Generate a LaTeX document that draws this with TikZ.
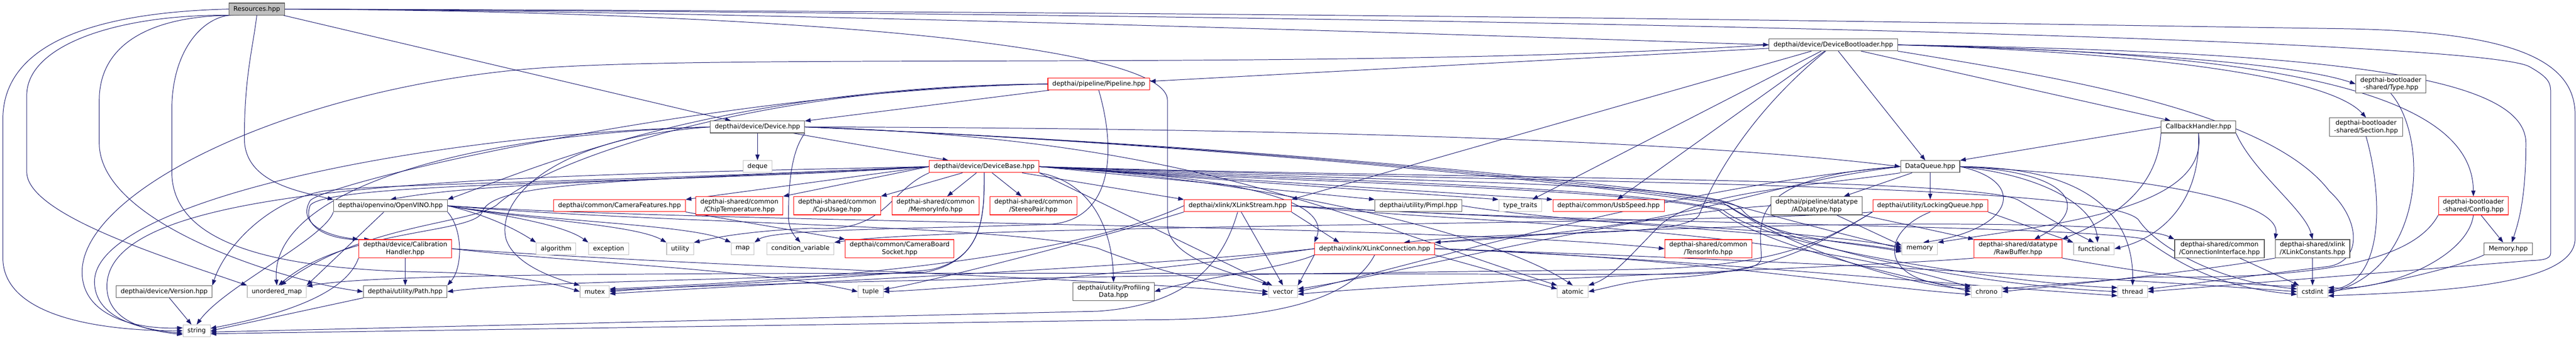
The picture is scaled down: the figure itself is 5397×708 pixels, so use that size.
\documentclass[tikz,border=0pt]{standalone}
\usepackage{fontspec}
\setmainfont{DejaVu Sans}
\usetikzlibrary{arrows.meta}
\definecolor{midblue}{HTML}{191970}
\definecolor{grey75}{HTML}{BFBFBF}
\definecolor{grey40}{HTML}{555555}
\pgfdeclarelayer{bg}
\pgfdeclarelayer{edges}
\pgfsetlayers{bg,edges,main}
\tikzset{
	hdr/.style={draw, rectangle, fill=white, font=\fontsize{10}{12}\selectfont, align=center,
		inner xsep=7pt, inner ysep=3.5pt, minimum height=18.75pt, line width=0.9pt},
	rootfile/.style={hdr, fill=grey75, draw=grey40},
	srcfile/.style={hdr, draw=grey40},
	cutfile/.style={hdr, draw=red},
	sysfile/.style={hdr, draw=grey75},
	dep/.style={-{Triangle[length=9pt,width=6.5pt]}, draw=midblue, line width=0.8pt}
}
\begin{document}
\begin{tikzpicture}[x=0.75pt, y=-0.75pt]
		\begin{pgfonlayer}{bg}
			\fill[white] (0,0) rectangle (5397,708);
		\end{pgfonlayer}
		\useasboundingbox (0,0) rectangle (5397,708);

		\draw (538,19) node[rootfile] (resources) {Resources.hpp};
		\draw (3841,94) node[srcfile] (devBoot) {depthai/device/DeviceBootloader.hpp};
		\draw (2302,176) node[cutfile] (pipeline) {depthai/pipeline/Pipeline.hpp};
		\draw (5009,176) node[srcfile] (blType) {depthai-bootloader\\-shared/Type.hpp};
		\draw (1587,266) node[srcfile] (device) {depthai/device/Device.hpp};
		\draw (4606,266) node[srcfile] (callback) {CallbackHandler.hpp};
		\draw (4957,266) node[srcfile] (blSection) {depthai-bootloader\\-shared/Section.hpp};
		\draw (1587,349) node[sysfile] (deque) {deque};
		\draw (2062,349) node[cutfile] (devBase) {depthai/device/DeviceBase.hpp};
		\draw (4044,349) node[srcfile] (dataQueue) {DataQueue.hpp};

		\draw (818,431) node[srcfile] (openvino) {depthai/openvino/OpenVINO.hpp};
		\draw (1298,431) node[cutfile] (camFeat) {depthai/common/CameraFeatures.hpp};
		\draw (1549,431) node[cutfile] (chipTemp) {depthai-shared/common\\/ChipTemperature.hpp};
		\draw (1754,431) node[cutfile] (cpuUsage) {depthai-shared/common\\/CpuUsage.hpp};
		\draw (1960,431) node[cutfile] (memInfo) {depthai-shared/common\\/MemoryInfo.hpp};
		\draw (2165,431) node[cutfile] (stereoPair) {depthai-shared/common\\/StereoPair.hpp};
		\draw (2593,431) node[cutfile] (xlStream) {depthai/xlink/XLinkStream.hpp};
		\draw (2972,431) node[srcfile] (pimpl) {depthai/utility/Pimpl.hpp};
		\draw (3185,431) node[sysfile] (typeTraits) {type\_traits};
		\draw (3370,431) node[cutfile] (usbSpeed) {depthai/common/UsbSpeed.hpp};
		\draw (3806,431) node[srcfile] (aDatatype) {depthai/pipeline/datatype\\/ADatatype.hpp};
		\draw (4044,431) node[cutfile] (lockQueue) {depthai/utility/LockingQueue.hpp};
		\draw (5182,431) node[cutfile] (blConfig) {depthai-bootloader\\-shared/Config.hpp};

		\draw (849,521) node[cutfile] (calib) {depthai/device/Calibration\\Handler.hpp};
		\draw (1165,521) node[sysfile] (algorithm) {algorithm};
		\draw (1275,521) node[sysfile] (exception) {exception};
		\draw (1425,521) node[sysfile] (utility) {utility};
		\draw (1556,521) node[sysfile] (map) {map};
		\draw (1677,521) node[sysfile] (condVar) {condition\_variable};
		\draw (1885,521) node[cutfile] (camSocket) {depthai/common/CameraBoard\\Socket.hpp};
		\draw (2880,521) node[cutfile] (xlConn) {depthai/xlink/XLinkConnection.hpp};
		\draw (3579,521) node[cutfile] (tensorInfo) {depthai-shared/common\\/TensorInfo.hpp};
		\draw (4022,521) node[sysfile] (memory) {memory};
		\draw (4228,521) node[cutfile] (rawBuffer) {depthai-shared/datatype\\/RawBuffer.hpp};
		\draw (4387,521) node[sysfile] (functional) {functional};
		\draw (4650,521) node[srcfile] (connIf) {depthai-shared/common\\/ConnectionInterface.hpp};
		\draw (4845,521) node[srcfile] (xlConst) {depthai-shared/xlink\\/XLinkConstants.hpp};
		\draw (5255,521) node[srcfile] (blMemory) {Memory.hpp};

		\draw (344,611) node[srcfile] (version) {depthai/device/Version.hpp};
		\draw (580,611) node[sysfile] (unorderedMap) {unordered\_map};
		\draw (849,611) node[srcfile] (utilPath) {depthai/utility/Path.hpp};
		\draw (1246,611) node[sysfile] (mutex) {mutex};
		\draw (1824,611) node[sysfile] (tuple) {tuple};
		\draw (2333,611) node[srcfile] (profiling) {depthai/utility/Profiling\\Data.hpp};
		\draw (2688,611) node[sysfile] (vector) {vector};
		\draw (3295,611) node[sysfile] (atomic) {atomic};
		\draw (4162,611) node[sysfile] (chrono) {chrono};
		\draw (4468,611) node[sysfile] (thread) {thread};
		\draw (4845,611) node[sysfile] (cstdint) {cstdint};
		\draw (412,693) node[sysfile] (string) {string};

		\begin{pgfonlayer}{edges}
		\draw [dep] (resources.west) .. controls (200,26) and (6,90) .. (6,250) -- (6,540) .. controls (6,660) and (200,693) .. (string.west);
		\draw [dep] (resources.195) .. controls (260,28) and (56,90) .. (56,200) -- (56,360) .. controls (56,450) and (350,540) .. (unorderedMap.north west);
		\draw [dep] (resources.200) .. controls (320,30) and (208,90) .. (208,210) -- (208,300) .. controls (208,470) and (600,590) .. (utilPath.west);
		\draw [dep] (resources.south west) .. controls (420,40) and (360,110) .. (360,230) -- (360,360) .. controls (360,520) and (600,565) .. (900,570) .. controls (1050,573) and (1150,590) .. (mutex.west);
		\draw [dep] (resources.south) .. controls (530,100) and (512,160) .. (512,290) .. controls (512,380) and (620,400) .. (openvino.north west);
		\draw [dep] (resources) -- (device);
		\draw [dep] (resources.east) .. controls (1500,22) and (3000,70) .. (devBoot.west);
		\draw [dep] (resources.east) .. controls (1600,24) and (2446,90) .. (2446,210) -- (2446,470) .. controls (2446,550) and (2620,580) .. (vector.north west);
		\draw [dep] (resources.east) .. controls (3000,26) and (4200,50) .. (4900,60) .. controls (5250,65) and (5395,120) .. (5395,240) -- (5395,500) .. controls (5395,600) and (5100,611) .. (cstdint.345);
		\draw [dep] (resources.east) .. controls (3000,30) and (5200,80) .. (5300,140) .. controls (5344,165) and (5344,175) .. (5344,200) -- (5344,530) .. controls (5344,545) and (5320,545) .. (5300,546) -- (thread.east);

		\draw [dep] (devBoot) -- (pipeline);
		\draw [dep] (devBoot.west) .. controls (2800,150) and (1500,110) .. (1100,145) .. controls (600,190) and (172,400) .. (172,570) .. controls (172,660) and (280,690) .. (string.168);
		\draw [dep] (devBoot) -- (xlStream.north east);
		\draw [dep] (devBoot) -- (typeTraits);
		\draw [dep] (devBoot) -- (usbSpeed);
		\draw [dep] (devBoot) .. controls (3650,250) and (3580,400) .. (3560,450) .. controls (3530,500) and (3200,480) .. (xlConn.12);
		\draw [dep] (devBoot) -- (dataQueue);
		\draw [dep] (devBoot) -- (callback);
		\draw [dep] (devBoot.south east) .. controls (4300,160) and (4750,230) .. (4880,400) .. controls (4945,460) and (4950,545) .. (4880,558) .. controls (4700,580) and (4550,600) .. (thread.10);
		\draw [dep] (devBoot.east) .. controls (4400,105) and (4800,130) .. (blType.west);
		\draw [dep] (devBoot.east) .. controls (4500,110) and (4880,160) .. (blSection.north);
		\draw [dep] (devBoot.east) .. controls (4800,110) and (5180,200) .. (blConfig.north);
		\draw [dep] (devBoot.east) .. controls (4900,108) and (5292,160) .. (5292,300) .. controls (5292,420) and (5275,470) .. (blMemory.60);

		\draw [dep] (device) -- (deque);
		\draw [dep] (device) -- (devBase);
		\draw [dep] (device.east) .. controls (2600,268) and (3500,290) .. (dataQueue.west);
		\draw [dep] (device.west) .. controls (900,280) and (198,420) .. (198,590) .. controls (198,665) and (290,690) .. (string.190);
		\draw [dep] (device.west) .. controls (900,285) and (565,420) .. (unorderedMap.north);
		\draw [dep] (device.west) .. controls (1150,290) and (1040,420) .. (1060,500) .. controls (1075,550) and (1150,580) .. (mutex.north west);
		\draw [dep] (device.south east) .. controls (1655,320) and (1652,400) .. (1652,455) .. controls (1652,480) and (1665,495) .. (condVar.north);
		\draw [dep] (device.east) .. controls (2500,300) and (3300,370) .. (3600,420) .. controls (3700,450) and (3900,500) .. (memory.west);
		\draw [dep] (device.east) .. controls (2500,300) and (3300,375) .. (3610,425) .. controls (3750,520) and (4000,600) .. (chrono.170);
		\draw [dep] (device.east) .. controls (2500,300) and (3300,380) .. (3620,430) .. controls (3780,540) and (4200,600) .. (thread.west);
		\draw [dep] (device.east) .. controls (2500,290) and (2800,450) .. (atomic.north west);

		\draw [dep] (pipeline) -- (device);
		\draw [dep] (pipeline.west) .. controls (1500,180) and (1100,360) .. (openvino.north east);
		\draw [dep] (pipeline.west) .. controls (1500,190) and (690,380) .. (650,420) .. controls (620,470) and (690,495) .. (calib.north west);
		\draw [dep] (pipeline.west) .. controls (1600,180) and (1150,330) .. (1040,430) .. controls (980,470) and (760,470) .. (unorderedMap.60);
		\draw [dep] (pipeline.south) .. controls (2340,320) and (2330,460) .. (2200,470) .. controls (1900,480) and (1620,480) .. (map.north east);

		\draw [dep] (devBase.west) -- (camFeat.north east);
		\draw [dep] (devBase.west) -- (chipTemp.north east);
		\draw [dep] (devBase) -- (cpuUsage.north east);
		\draw [dep] (devBase) -- (memInfo);
		\draw [dep] (devBase) -- (stereoPair);
		\draw [dep] (devBase) -- (xlStream.north west);
		\draw [dep] (devBase.east) -- (pimpl.north west);
		\draw [dep] (devBase.east) -- (typeTraits.north west);
		\draw [dep] (devBase.east) -- (usbSpeed.north west);
		\draw [dep] (devBase.south east) .. controls (2280,380) and (2330,470) .. (profiling.north);
		\draw [dep] (devBase.west) .. controls (1600,375) and (1050,375) .. (openvino.north);
		\draw [dep] (devBase.west) .. controls (1400,385) and (690,380) .. (650,430) .. controls (630,480) and (700,505) .. (calib.165);
		\draw [dep] (devBase.west) .. controls (1300,380) and (800,385) .. (680,400) .. controls (560,420) and (470,520) .. (version.north east);
		\draw [dep] (devBase.south west) .. controls (1860,400) and (1857,490) .. (1700,478) .. controls (1550,485) and (1490,500) .. (utility.north east);
		\draw [dep] (devBase.south) .. controls (2062,450) and (2062,540) .. (1950,565) .. controls (1700,590) and (1400,600) .. (mutex.east);
		\draw [dep] (devBase.south) .. controls (2062,450) and (2062,545) .. (1940,570) .. controls (1600,585) and (1100,590) .. (utilPath.east);
		\draw [dep] (devBase.south east) -- (vector.150);
		\draw [dep] (devBase.east) .. controls (2700,380) and (3150,500) .. (atomic.north);
		\draw [dep] (devBase.east) .. controls (2600,380) and (3400,390) .. (3600,440) .. controls (3700,520) and (4000,580) .. (chrono.west);
		\draw [dep] (devBase.east) .. controls (2600,375) and (3400,385) .. (3610,440) .. controls (3720,530) and (4300,600) .. (thread.165);
		\draw [dep] (devBase.west) .. controls (1000,370) and (224,380) .. (224,600) .. controls (224,670) and (300,692) .. (string.195);
		\draw [dep] (devBase.west) .. controls (1300,380) and (1030,380) .. (1010,445) .. controls (990,490) and (720,480) .. (unorderedMap.75);
		\draw [dep] (devBase.east) .. controls (3000,385) and (3600,380) .. (3650,440) .. controls (3700,500) and (3900,510) .. (memory.190);
		\draw [dep] (devBase.east) .. controls (3000,375) and (4150,370) .. (4230,420) .. controls (4290,455) and (4330,480) .. (functional.north);
		\draw [dep] (devBase.east) .. controls (3200,385) and (4400,380) .. (4480,460) .. controls (4520,520) and (4650,590) .. (cstdint.170);
		\draw [dep] (devBase.east) .. controls (2600,370) and (2790,420) .. (xlConn.north west);

		\draw [dep] (openvino.east) .. controls (1020,450) and (1080,480) .. (algorithm.north west);
		\draw [dep] (openvino.east) .. controls (1050,450) and (1180,470) .. (exception.north west);
		\draw [dep] (openvino.east) .. controls (1100,460) and (1330,470) .. (utility.north west);
		\draw [dep] (openvino.east) .. controls (1150,465) and (1450,470) .. (map.north west);
		\draw [dep] (openvino.south west) .. controls (680,500) and (470,600) .. (string.north);
		\draw [dep] (openvino) -- (unorderedMap.north east);
		\draw [dep] (openvino.south east) .. controls (970,480) and (970,560) .. (utilPath.north east);
		\draw [dep] (openvino.east) .. controls (1400,470) and (2100,470) .. (2300,520) .. controls (2400,560) and (2550,600) .. (vector.west);
		\draw [dep] (openvino.east) .. controls (1500,468) and (3000,470) .. (tensorInfo.west);

		\draw [dep] (calib) -- (utilPath);
		\draw [dep] (calib.south west) .. controls (730,600) and (640,650) .. (string.10);
		\draw [dep] (calib.east) .. controls (1200,550) and (1600,565) .. (tuple.west);
		\draw [dep] (calib.east) .. controls (1500,560) and (2300,580) .. (vector.190);
		\draw [dep] (version) -- (string);
		\draw [dep] (utilPath.south west) -- (string.east);
		\draw [dep] (camFeat.south east) -- (camSocket.north west);

		\draw [dep] (xlStream) -- (vector.north);
		\draw [dep] (xlStream.south) .. controls (2560,560) and (2480,640) .. (2300,652) -- (string.355);
		\draw [dep] (xlStream.south west) .. controls (2300,500) and (1950,590) .. (tuple.10);
		\draw [dep] (xlStream.west) .. controls (2200,560) and (1600,590) .. (mutex.10);
		\draw [dep] (xlStream.south east) -- (xlConn.170);
		\draw [dep] (xlStream.east) .. controls (3100,470) and (3700,470) .. (chrono.165);
		\draw [dep] (xlStream.east) .. controls (3300,470) and (4300,470) .. (4490,500) .. controls (4540,530) and (4620,600) .. (cstdint.190);
		\draw [dep] (xlStream.east) .. controls (3100,455) and (3700,470) .. (memory.175);

		\draw [dep] (xlConn.south east) -- (atomic.170);
		\draw [dep] (xlConn.south west) -- (vector.north east);
		\draw [dep] (xlConn.south) .. controls (2840,610) and (2720,670) .. (2400,670) -- (string.348);
		\draw [dep] (xlConn.east) .. controls (3500,540) and (4000,590) .. (thread.195);
		\draw [dep] (xlConn.east) .. controls (3500,535) and (3900,600) .. (chrono.190);
		\draw [dep] (xlConn.west) .. controls (2400,560) and (1600,595) .. (mutex.352);
		\draw [dep] (xlConn.west) .. controls (2400,570) and (2000,605) .. (tuple.east);
		\draw [dep] (xlConn.south west) .. controls (2700,560) and (2500,585) .. (profiling.east);
		\draw [dep] (xlConn.east) .. controls (3600,540) and (4400,580) .. (cstdint.west);
		\draw [dep] (xlConn.north east) .. controls (3400,470) and (4450,450) .. (connIf.north west);

		\draw [dep] (dataQueue) -- (aDatatype);
		\draw [dep] (dataQueue) -- (lockQueue);
		\draw [dep] (dataQueue.east) .. controls (4250,380) and (4220,480) .. (memory.60);
		\draw [dep] (dataQueue.east) .. controls (4350,360) and (4380,440) .. (rawBuffer.30);
		\draw [dep] (dataQueue.east) .. controls (4300,370) and (4390,440) .. (functional.60);
		\draw [dep] (dataQueue.east) .. controls (4400,350) and (4470,470) .. (thread.north);
		\draw [dep] (dataQueue.west) .. controls (3500,390) and (2950,560) .. (vector.east);
		\draw [dep] (dataQueue.south west) .. controls (3800,390) and (3560,400) .. (3480,470) .. controls (3420,530) and (3380,580) .. (atomic.north east);
		\draw [dep] (dataQueue.west) .. controls (3650,370) and (3690,470) .. (3690,540) .. controls (3690,570) and (3600,575) .. (3400,575) .. controls (1500,570) and (800,570) .. (unorderedMap.10);
		\draw [dep] (dataQueue.west) .. controls (3650,390) and (3550,480) .. (xlConn.north east);
		\draw [dep] (dataQueue.east) .. controls (4500,370) and (4780,420) .. (xlConst.north west);

		\draw [dep] (aDatatype.south east) -- (rawBuffer.north west);
		\draw [dep] (aDatatype) -- (memory.170);
		\draw [dep] (aDatatype.west) .. controls (3400,450) and (2950,570) .. (vector.10);

		\draw [dep] (lockQueue.south west) .. controls (3600,470) and (2000,470) .. (condVar.north east);
		\draw [dep] (lockQueue.south west) .. controls (3800,520) and (3700,560) .. (3400,565) .. controls (2500,575) and (1600,590) .. (mutex.5);
		\draw [dep] (lockQueue.south) .. controls (3930,490) and (3940,600) .. (chrono.north west);
		\draw [dep] (lockQueue.south east) -- (functional.north west);
		\draw [dep] (lockQueue.south west) .. controls (3800,520) and (3700,570) .. (3500,582) .. controls (3420,587) and (3380,600) .. (atomic.east);

		\draw [dep] (callback.west) -- (dataQueue.north east);
		\draw [dep] (callback.south east) .. controls (4720,360) and (4830,440) .. (xlConst.north);
		\draw [dep] (callback.south) .. controls (4612,430) and (4520,500) .. (functional.east);
		\draw [dep] (callback.south) .. controls (4630,440) and (4300,470) .. (memory.north east);
		\draw [dep] (callback.south west) .. controls (4520,400) and (4420,460) .. (rawBuffer.north east);

		\draw [dep] (rawBuffer.south west) .. controls (3900,560) and (3000,590) .. (vector.350);
		\draw [dep] (rawBuffer.south east) .. controls (4480,570) and (4700,600) .. (cstdint.160);
		\draw [dep] (pimpl.east) .. controls (3300,470) and (3700,480) .. (memory.185);
		\draw [dep] (connIf) -- (cstdint);
		\draw [dep] (xlConst) -- (cstdint);
		\draw [dep] (xlConst.south west) .. controls (4600,570) and (4300,600) .. (chrono.east);
		\draw [dep] (blConfig) -- (blMemory);
		\draw [dep] (blConfig.south) .. controls (5170,540) and (5000,610) .. (cstdint.15);
		\draw [dep] (blConfig.south west) .. controls (5050,560) and (4800,585) .. (4500,580) -- (chrono.10);
		\draw [dep] (blMemory.south west) .. controls (5150,560) and (5000,595) .. (cstdint.east);
		\draw [dep] (blType.south) .. controls (5090,290) and (5080,560) .. (cstdint.355);
		\draw [dep] (blSection.south) .. controls (4990,400) and (5000,590) .. (cstdint.5);
		\end{pgfonlayer}
	\end{tikzpicture}
\end{document}
